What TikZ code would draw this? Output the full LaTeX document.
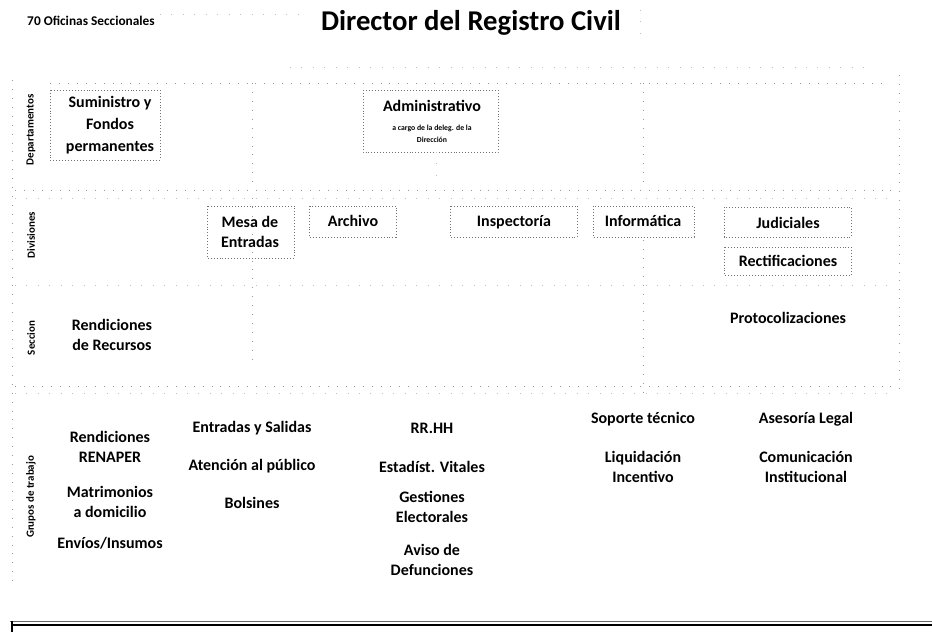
\documentclass[tikz,border=0pt]{standalone}
\usepackage{fontspec}
\setmainfont{Carlito}
\begin{document}
\begin{tikzpicture}[x=0.75pt,y=-0.75pt,
  txt/.style={font=\bfseries\fontsize{12}{15.5}\selectfont, inner sep=0pt, text height=7.7pt, text depth=0pt},
  ml/.style={font=\bfseries\fontsize{12}{15.5}\selectfont, align=center, inner sep=0pt},
  lbl/.style={font=\bfseries\fontsize{8.2}{9}\selectfont, rotate=90, inner sep=0pt},
  dbox/.style={draw=black!55, dash pattern=on 0.6pt off 1.6pt, line width=0.5pt},
  grid/.style={draw=black!40, dash pattern=on 0.7pt off 6pt, line width=0.6pt},
  faint/.style={draw=black!25, dash pattern=on 0.6pt off 8pt, line width=0.5pt}]
\useasboundingbox (0,0) rectangle (932,632);
\fill[white] (0,0) rectangle (932,632);

% header
\node[font=\bfseries\fontsize{10}{12}\selectfont, inner sep=0pt, text height=6.4pt, text depth=0pt] (ofi) at (91,21) {70 Oficinas Seccionales};
\node[font=\bfseries\fontsize{21.5}{24}\selectfont, inner sep=0pt, text height=13.8pt, text depth=0pt] (dir) at (471,21) {Director del Registro Civil};
\draw[faint] (160,14) -- (300,14);
\draw[faint] (640,10) -- (640,44);

% grid lines
\draw[faint] (290,67) -- (870,67);
\draw[grid] (50,83) -- (882,83);
\draw[grid] (12,80) -- (12,585);
\draw[grid] (899,75) -- (899,395);
\draw[grid] (252,83) -- (252,190);
\draw[grid] (252,198) -- (252,360);
\draw[grid] (643,83) -- (643,190);
\draw[grid] (643,240) -- (643,400);
\draw[grid] (15,190) -- (895,190);
\draw[faint] (15,198) -- (895,198);
\draw[faint] (15,285) -- (895,285);
\draw[grid] (15,386) -- (895,386);
\draw[faint] (15,393) -- (895,393);

% row labels
\node[lbl] (ldep) at (31,130) {Departamentos};
\node[lbl] (ldiv) at (31,235) {Divisiones};
\node[lbl] (lsec) at (31,338) {Seccion};
\node[lbl] (lgru) at (31,497) {Grupos de trabajo};

% departamentos
\draw[dbox] (50,90) rectangle (160,160);
\node[ml, font=\bfseries\fontsize{12}{16.5}\selectfont] (sum) at (110,125) {Suministro y\\Fondos\\permanentes};
\draw[dbox] (363,90) rectangle (498,152);
\node[txt] (adm) at (432,106) {Administrativo};
\node[font=\bfseries\fontsize{5.8}{9}\selectfont, align=center, inner sep=0pt] (admsub) at (432,134) {a cargo de la deleg. de la\\Dirección};
\draw[faint] (436,152) -- (436,178);

% divisiones
\draw[dbox] (207,206) rectangle (294,258);
\node[ml, font=\bfseries\fontsize{12}{15}\selectfont] (mesa) at (250,232) {Mesa de\\Entradas};
\draw[dbox] (309,206) rectangle (396,237);
\node[txt] (arch) at (353,221) {Archivo};
\draw[dbox] (450,206) rectangle (577,237);
\node[txt] (insp) at (514,221) {Inspectoría};
\draw[dbox] (593,206) rectangle (694,237);
\node[txt] (info) at (643,221) {Informática};
\draw[dbox] (724,207) rectangle (851,237);
\node[txt] (jud) at (788,223) {Judiciales};
\draw[dbox] (724,247) rectangle (851,275);
\node[txt] (rect) at (788,261) {Rectificaciones};

% seccion
\node[txt] (prot) at (788,318) {Protocolizaciones};
\node[ml] (rend) at (112,335) {Rendiciones\\de Recursos};

% grupos de trabajo
\node[ml] (renap) at (110,447) {Rendiciones\\RENAPER};
\node[ml] (matr) at (110,502) {Matrimonios\\a domicilio};
\node[txt] (envi) at (110,543) {Envíos/Insumos};
\node[txt] (entr) at (252,427) {Entradas y Salidas};
\node[txt] (aten) at (252,465) {Atención al público};
\node[txt] (bols) at (252,503) {Bolsines};
\node[txt] (rrhh) at (432,428) {RR.HH};
\node[txt] (esta) at (432,467) {Estadíst. Vitales};
\node[ml] (gest) at (432,507) {Gestiones\\Electorales};
\node[ml] (avis) at (432,560) {Aviso de\\Defunciones};
\node[txt] (sopo) at (643,418) {Soporte técnico};
\node[ml] (liqu) at (643,467) {Liquidación\\Incentivo};
\node[txt] (ases) at (806,418) {Asesoría Legal};
\node[ml] (comu) at (806,467) {Comunicación\\Institucional};

% bottom frame
\draw[black!60, line width=0.6pt] (10,621) -- (932,621);
\draw[black, line width=1.5pt] (12,625) -- (932,625);
\draw[black, line width=1.2pt] (12,621) -- (12,632);
\end{tikzpicture}
\end{document}
